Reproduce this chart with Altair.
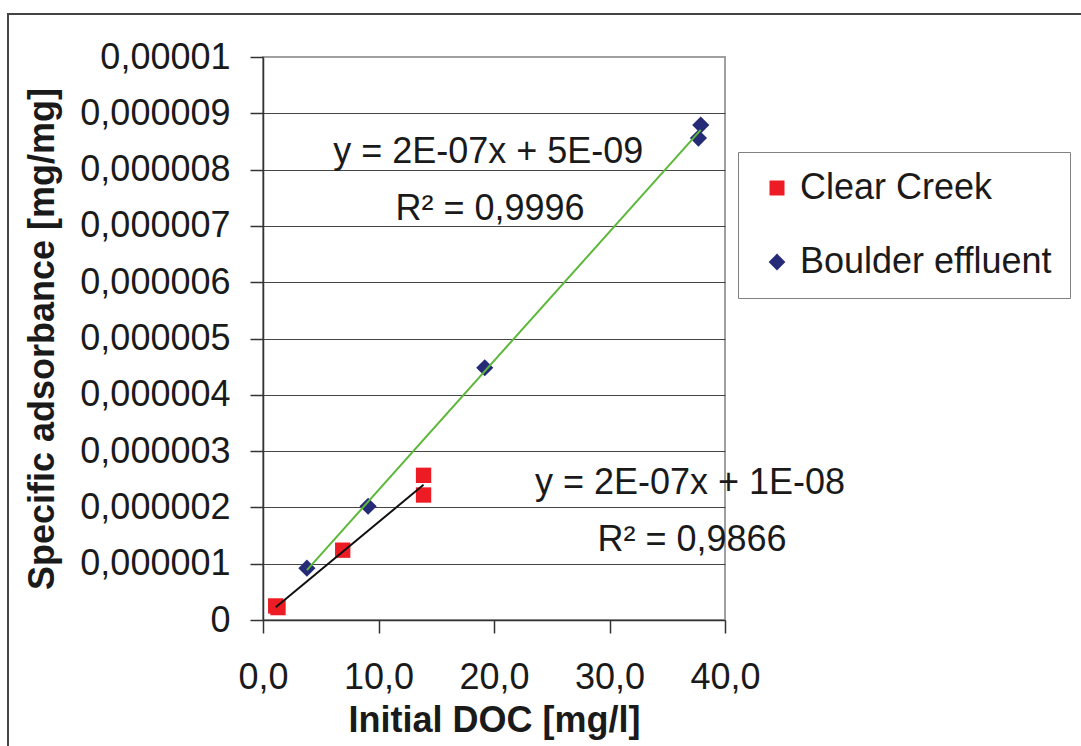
import altair as alt
import pandas as pd

# ---- data ----
series_names = ["Clear Creek", "Boulder effluent"]
clear_doc = [1.1, 1.3, 6.9, 13.9, 13.9]
clear_abs = [0.00000025, 0.00000022, 0.00000124, 0.00000257, 0.00000222]
boulder_doc = [3.8, 9.1, 19.2, 37.7, 37.9]
boulder_abs = [0.00000092, 0.00000202, 0.00000448, 0.00000856, 0.00000879]

x_ticks = [0, 10, 20, 30, 40]
y_ticks = [0, 0.000001, 0.000002, 0.000003, 0.000004, 0.000005,
           0.000006, 0.000007, 0.000008, 0.000009, 0.00001]

eq_text = ["y = 2E-07x + 5E-09", "R² = 0,9996", "y = 2E-07x + 1E-08", "R² = 0,9866"]
eq_x = [19.5, 19.65, 36.97, 37.14]
eq_y = [0.00000832, 0.00000730, 0.00000243, 0.00000142]

FONT = "Liberation Sans"
TXT = "#1a1a1a"

df = pd.DataFrame({
    "doc": clear_doc + boulder_doc,
    "abs": clear_abs + boulder_abs,
    "series": [series_names[0]] * len(clear_doc) + [series_names[1]] * len(boulder_doc),
})
eq_df = pd.DataFrame({"text": eq_text, "x": eq_x, "y": eq_y})

xscale = alt.Scale(domain=[0, 40], nice=False, zero=True)
yscale = alt.Scale(domain=[0, 0.00001], nice=False, zero=True)

x_axis = alt.Axis(
    values=x_ticks, title="Initial DOC [mg/l]", grid=False,
    labelExpr="replace(format(datum.value, '.1f'), '.', ',')",
    labelFont=FONT, labelFontSize=36, labelColor=TXT, labelPadding=27,
    labelBaseline="top", labelFlush=False, labelOverlap=False,
    tickSize=13, tickColor="#333333", tickWidth=1.5,
    domainColor="#333333", domainWidth=1.5,
    titleFont=FONT, titleFontSize=36, titleFontWeight="bold", titleColor=TXT,
    titleX=231, titleY=111, titleAlign="center", titleBaseline="alphabetic",
)
y_axis = alt.Axis(
    values=y_ticks, title="Specific adsorbance [mg/mg]", grid=True,
    gridColor={"condition": {"test": "datum.value > 0.0000095", "value": "#A0A0A0"}, "value": "#444444"},
    gridWidth=1,
    labelExpr="replace(format(datum.value, '~g'), '.', ',')",
    labelFont=FONT, labelFontSize=36, labelColor=TXT, labelPadding=20,
    labelFlush=False, labelOverlap=False,
    tickSize=13, tickColor="#333333", tickWidth=1.5,
    domainColor="#333333", domainWidth=1.5,
    titleFont=FONT, titleFontSize=36, titleFontWeight="bold", titleColor=TXT,
    titleX=-221, titleY=281.5, titleAngle=-90, titleAlign="center", titleBaseline="middle",
)

legend = alt.Legend(
    title=None, orient="none", legendX=475, legendY=95,
    strokeColor="#808080", fillColor="white", padding=18,
    labelFont=FONT, labelFontSize=36, labelColor=TXT, labelLimit=0,
    symbolSize=225, rowPadding=38, symbolOffset=3, labelOffset=5,
    symbolStrokeWidth=0,
)

diamond_path = "M-1.12,0L0,-1.12L1.12,0L0,1.12Z"

base = alt.Chart(df)

points = base.mark_point(filled=True, size=235, opacity=1).encode(
    x=alt.X("doc:Q", scale=xscale, axis=x_axis),
    y=alt.Y("abs:Q", scale=yscale, axis=y_axis),
    color=alt.Color("series:N", scale=alt.Scale(domain=series_names, range=["#ED1C24", "#262B78"]), legend=legend),
    shape=alt.Shape("series:N", scale=alt.Scale(domain=series_names, range=["square", diamond_path]), legend=legend),
)

line_cc = base.transform_filter(alt.datum.series == series_names[0]).transform_regression(
    "doc", "abs").mark_line(color="#111111", strokeWidth=2).encode(
    x=alt.X("doc:Q", scale=xscale), y=alt.Y("abs:Q", scale=yscale))

line_be = base.transform_filter(alt.datum.series == series_names[1]).transform_regression(
    "doc", "abs").mark_line(color="#5DB83A", strokeWidth=2).encode(
    x=alt.X("doc:Q", scale=xscale), y=alt.Y("abs:Q", scale=yscale))

labels = alt.Chart(eq_df).mark_text(
    font=FONT, fontSize=36, color=TXT, align="center", baseline="middle"
).encode(
    x=alt.X("x:Q", scale=xscale), y=alt.Y("y:Q", scale=yscale), text="text:N")

frame = alt.Chart(alt.Data(values=[{}])).mark_rect(
    fill=None, stroke="#444444", strokeWidth=2
).encode(x=alt.value(-255), y=alt.value(-43), x2=alt.value(2000), y2=alt.value(2000))

chart = alt.layer(frame, points, line_cc, line_be, labels).properties(
    width=462, height=563,
    autosize=alt.AutoSizeParams(type="none"),
    padding={"left": 263, "top": 57, "right": 356, "bottom": 126},
    background="white",
).configure_view(stroke="#A0A0A0", strokeWidth=2)

chart.save("out.html", embed_options={"renderer": "svg", "actions": False})
